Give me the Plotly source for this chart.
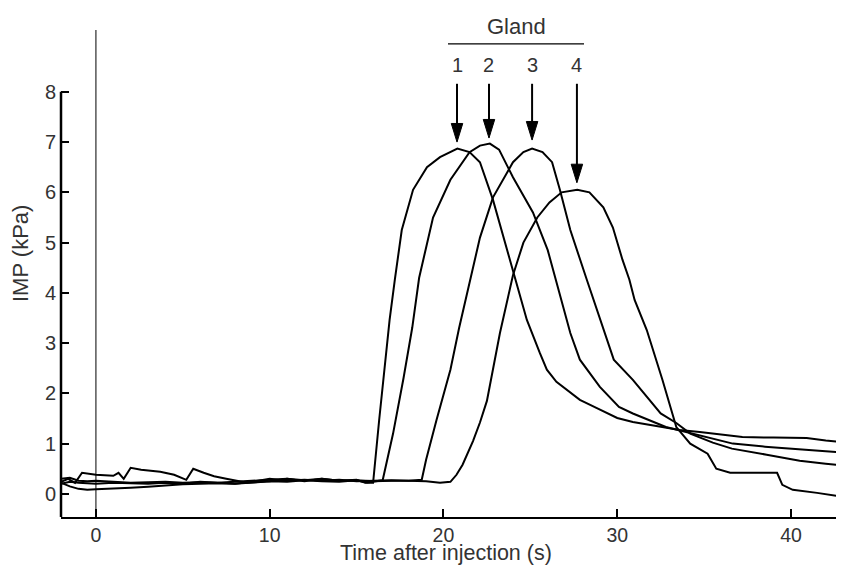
import plotly.graph_objects as go

# ---- data ----
t1 = [-2.0,-1.5,-1.0,-0.5,0,1,2,3,4,5,6,7,8,9,10,11,12,13,14,15,15.6,15.95,16.3,16.9,17.2,17.6,18.25,19.05,19.8,20.8,
      21.5,22.1,22.85,24.0,24.8,25.55,25.95,26.5,27.85,28.8,30.0,30.9,32.8,33.6,34.75,37.2,39.0,40.9,42.0,43.05]
v1 = [0.30,0.32,0.26,0.25,0.26,0.24,0.22,0.23,0.24,0.22,0.23,0.22,0.24,0.25,0.28,0.30,0.27,0.30,0.26,0.27,0.22,0.22,1.47,3.46,4.26,5.25,6.05,6.50,6.70,6.87,
      6.80,6.60,5.85,4.46,3.46,2.80,2.47,2.23,1.87,1.71,1.51,1.43,1.31,1.27,1.23,1.13,1.12,1.11,1.06,1.03]

t2 = [-2.0,-1.6,-1.2,-0.8,0,1.0,1.3,1.6,2.0,2.6,3.7,4.5,5.2,5.6,6.2,6.8,7.5,8.7,10,11,12,13,14,15,15.5,
      16.0,16.5,17.1,17.7,18.2,18.6,19.4,20.4,21.5,22.1,22.67,23.2,24.0,25.15,26.0,26.7,27.0,27.3,27.85,29.0,
      30.1,30.9,32.8,34.2,36.65,38.5,40.5,42.0,43.05]
v2 = [0.24,0.30,0.22,0.42,0.38,0.36,0.42,0.30,0.52,0.48,0.44,0.38,0.28,0.50,0.42,0.35,0.30,0.22,0.25,0.30,0.25,0.30,0.26,0.28,0.22,
      0.25,0.27,1.2,2.3,3.3,4.3,5.5,6.25,6.8,6.93,6.97,6.85,6.3,5.6,4.85,3.95,3.55,3.2,2.67,2.13,
      1.73,1.6,1.33,1.21,1.0,0.94,0.88,0.85,0.82]

t3 = [-2.0,-1.5,-1.0,-0.5,0,1,2,3,4,5,6,7,8,9,10,11,12,13,14,15,16,17,18,18.75,19.0,19.6,20.4,20.9,22.1,22.85,
      24.0,24.6,25.1,25.7,26.25,26.7,27.3,28.25,29.2,29.8,30.9,32.5,33.4,34.2,35.5,36.6,38.6,40.5,42.0,43.05]
v3 = [0.22,0.15,0.10,0.08,0.09,0.10,0.12,0.14,0.17,0.19,0.20,0.21,0.20,0.23,0.25,0.24,0.27,0.25,0.24,0.27,0.25,0.26,0.26,0.28,0.68,1.47,2.47,3.30,5.1,5.9,
      6.6,6.8,6.87,6.8,6.6,6.05,5.25,4.26,3.26,2.67,2.27,1.6,1.41,1.2,1.02,0.9,0.78,0.66,0.6,0.56]

t4 = [-2.0,-1.5,-1.0,0,1,2,3,4,5,6,7,8,9,10,11,12,13,14,15,16,17,18,19,19.8,20.4,20.75,21.1,21.7,22.1,22.5,22.85,23.25,
      24.0,24.6,25.4,26.1,26.8,27.7,28.4,29.2,29.75,30.3,30.7,31.0,31.7,32.6,33.4,34.2,35.2,35.7,36.5,37.6,39.2,39.5,40.1,41.5,43.05]
v4 = [0.20,0.24,0.22,0.20,0.22,0.21,0.20,0.22,0.20,0.24,0.22,0.20,0.24,0.30,0.26,0.28,0.26,0.28,0.25,0.26,0.27,0.26,0.25,0.22,0.24,0.38,0.58,1.05,1.42,1.85,2.5,3.2,
      4.35,5.0,5.5,5.8,6.0,6.05,6.0,5.7,5.3,4.66,4.26,3.86,3.26,2.27,1.33,1.0,0.8,0.5,0.42,0.42,0.42,0.18,0.08,0.02,-0.06]

x_ticks = [0, 10, 20, 30, 40]
y_ticks = [0, 1, 2, 3, 4, 5, 6, 7, 8]
gland_labels = ["1", "2", "3", "4"]
arrow_t = [20.78, 22.62, 25.1, 27.68]
arrow_tip = [7.0, 7.08, 7.04, 6.19]

X_RANGE = [-2.01, 43.05]
Y_RANGE = [-0.46, 9.23]
TEXT = "#333333"
FONT = "Liberation Sans, Arial, sans-serif"

fig = go.Figure()
for t, v in [(t1, v1), (t2, v2), (t3, v3), (t4, v4)]:
    fig.add_trace(go.Scatter(x=t, y=v, mode="lines", line=dict(color="black", width=2), hoverinfo="skip"))

shapes = []
# y axis line (only up to 8)
shapes.append(dict(type="line", xref="paper", yref="y", x0=0, x1=0, y0=Y_RANGE[0], y1=max(y_ticks),
                   line=dict(color="black", width=2.5)))
# injection marker at t = 0
shapes.append(dict(type="line", xref="x", yref="paper", x0=0, x1=0, y0=0, y1=1,
                   line=dict(color="black", width=1)))
# Gland bracket line
shapes.append(dict(type="line", xref="x", yref="y", x0=20.26, x1=28.09, y0=8.955, y1=8.955,
                   line=dict(color="black", width=1.2)))
# arrows
for t, tip in zip(arrow_t, arrow_tip):
    shapes.append(dict(type="line", xref="x", yref="y", x0=t, x1=t, y0=8.16, y1=tip + 0.3,
                       line=dict(color="black", width=2)))
    shapes.append(dict(type="path", xref="x", yref="y",
                       path=f"M {t-0.33},{tip+0.37} L {t+0.33},{tip+0.37} L {t},{tip} Z",
                       fillcolor="black", line=dict(color="black", width=1)))

annotations = []
annotations.append(dict(text="Gland", x=24.23, y=1.008, xref="x", yref="paper", showarrow=False,
                        font=dict(size=22, color=TEXT, family=FONT), xanchor="center", yanchor="middle"))
for lab, t in zip(gland_labels, arrow_t):
    annotations.append(dict(text=lab, x=t, y=8.54, xref="x", yref="y", showarrow=False,
                            font=dict(size=20, color=TEXT, family=FONT), xanchor="center", yanchor="middle"))
annotations.append(dict(text="Time after injection (s)", x=0.4917, y=-0.073, xref="paper", yref="paper",
                        showarrow=False, font=dict(size=21.5, color=TEXT, family=FONT),
                        xanchor="center", yanchor="middle"))
annotations.append(dict(text="IMP (kPa)", x=-0.0524, y=0.542, xref="paper", yref="paper", textangle=-90,
                        showarrow=False, font=dict(size=22, color=TEXT, family=FONT),
                        xanchor="center", yanchor="middle"))

# the page body has an 8px margin, so the figure is 8px smaller and margins shifted
fig.update_layout(
    width=836, height=557,
    margin=dict(l=53, r=0, t=22, b=48),
    paper_bgcolor="white", plot_bgcolor="white",
    showlegend=False,
    shapes=shapes, annotations=annotations,
    xaxis=dict(range=X_RANGE, tickvals=x_ticks, ticks="inside", ticklen=8, tickwidth=1.5, tickcolor="black",
               showline=True, linecolor="black", linewidth=1.5, showgrid=False, zeroline=False,
               tickfont=dict(size=19.5, color=TEXT, family=FONT)),
    yaxis=dict(range=Y_RANGE, tickvals=y_ticks, ticks="inside", ticklen=8, tickwidth=2, tickcolor="black",
               showline=False, showgrid=False, zeroline=False,
               tickfont=dict(size=20, color=TEXT, family=FONT), ticklabelstandoff=4),
)

fig.write_html("out.html")
